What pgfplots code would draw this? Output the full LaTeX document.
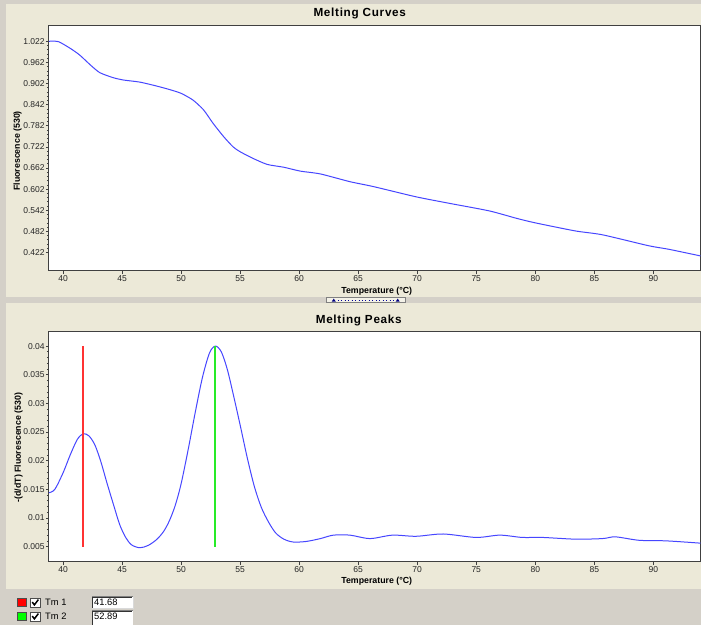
\documentclass[border=0pt]{standalone}
\usepackage{fontspec}
\setmainfont{Liberation Sans}
\usepackage{pgfplots}
\pgfplotsset{compat=1.18}
\definecolor{xpbeige}{RGB}{236,233,216}
\definecolor{xpgrey}{RGB}{212,208,200}
\definecolor{curveblue}{RGB}{70,70,255}
\definecolor{axisgrey}{RGB}{64,64,64}
\definecolor{tmred}{RGB}{255,50,50}
\definecolor{tmgreen}{RGB}{40,235,40}
\newfontfamily\titlefont[LetterSpace=6]{Liberation Sans Bold}

\pgfplotstableread{
T F
38.8 1.022
39.6 1.021
40.6 1.002
41.4 0.983
42.3 0.955
43.1 0.933
44.2 0.919
45.1 0.912
46.5 0.906
47.9 0.895
49.0 0.885
50.0 0.874
51.0 0.855
51.9 0.827
52.7 0.789
53.6 0.751
54.4 0.722
55.0 0.708
56.1 0.689
57.3 0.672
58.7 0.664
60.1 0.653
61.8 0.645
64.3 0.623
66.3 0.609
69.9 0.580
72.8 0.561
76.1 0.540
78.4 0.519
80.0 0.506
83.4 0.483
85.7 0.472
89.6 0.441
91.3 0.431
94.0 0.412
}\curves

\pgfplotstableread{
T D
38.8 0.0144
39.3 0.0150
40.0 0.0179
40.6 0.0210
41.2 0.0237
41.7 0.0247
42.2 0.0243
42.7 0.0227
43.2 0.0198
43.7 0.0162
44.3 0.0121
44.8 0.0088
45.3 0.0066
45.8 0.0053
46.5 0.0048
47.2 0.0052
47.9 0.0062
48.5 0.0076
49.0 0.0095
49.5 0.0122
50.0 0.0160
50.6 0.0220
51.2 0.0285
51.8 0.0345
52.4 0.0388
52.9 0.0400
53.4 0.0390
53.9 0.0360
54.4 0.0317
55.0 0.0262
55.6 0.0205
56.2 0.0155
56.8 0.0118
57.4 0.0093
58.0 0.0074
58.7 0.0063
59.5 0.0058
60.6 0.0059
61.8 0.0064
62.9 0.0070
64.3 0.0070
66.0 0.0064
67.9 0.0070
69.9 0.0068
72.2 0.0072
75.0 0.0066
77.0 0.0070
78.9 0.0066
80.6 0.0066
83.4 0.0063
85.7 0.0064
86.8 0.0067
88.8 0.0061
91.1 0.0060
94.0 0.0056
}\peaks

\pgfplotsset{
  xpaxis/.style={
    scale only axis,
    width=489pt,
    anchor=south west,
    xmin=38.8, xmax=94,
    axis background/.style={fill=white},
    axis line style={axisgrey, line width=0.75pt},
    xtick={40,45,...,90},
    xticklabels={40,45,50,55,60,65,70,75,80,85,90},
    xtick pos=lower, ytick pos=left,
    tick align=outside,
    major tick length=2.4pt,
    minor tick length=1.5pt,
    minor y tick num=4,
    scaled y ticks=false,
    tick style={axisgrey, line width=0.5pt},
    ticklabel style={font=\fontsize{6.4}{7}\selectfont, text=black!85},
    /pgf/number format/assume math mode=true,
    xticklabel style={inner sep=1pt},
    yticklabel style={inner sep=0.6pt},
  }
}

\begin{document}
\begin{tikzpicture}
\begin{scope}[x=0.75pt,y=-0.75pt]
\useasboundingbox (0,0) rectangle (701,625);
\fill[xpgrey] (0,0) rectangle (701,625);
\fill[xpbeige] (6,4) rectangle (701,297);
\fill[xpbeige] (6,303) rectangle (701,589);
% splitter button
\fill[xpbeige!60!white] (327,297.5) rectangle (406,303);
\draw[gray, line width=0.5pt] (327,297.5) rectangle (406,303);
\draw[blue!60!black, dotted, line width=0.6pt] (338,300.3) -- (395,300.3);
\fill[blue!50!black] (332,301.8) -- (336,301.8) -- (334,298.8) -- cycle;
\fill[blue!50!black] (396,301.8) -- (400,301.8) -- (398,298.8) -- cycle;
% titles and labels
\node[font=\titlefont\fontsize{8.8}{10}\selectfont] at (360,14) {Melting Curves};
\node[font=\titlefont\fontsize{8.8}{10}\selectfont] at (359,320.5) {Melting Peaks};
\node[font=\bfseries\fontsize{6.6}{8}\selectfont] at (377,291) {Temperature (°C)};
\node[font=\bfseries\fontsize{6.6}{8}\selectfont] at (377,582) {Temperature (°C)};
\node[font=\bfseries\fontsize{6.6}{8}\selectfont, rotate=90] at (17.5,151) {Fluorescence (530)};
\node[font=\bfseries\fontsize{6.6}{8}\selectfont, rotate=90] at (18.5,448) {-(d/dT) Fluorescence (530)};
% legend rows
\fill[red] (17,599) rectangle (26,607);
\draw[black!70, line width=0.5pt] (17,599) rectangle (26,607);
\fill[white] (30.5,598.5) rectangle (40,607.5);
\draw[black!70, line width=0.5pt] (30.5,598.5) rectangle (40,607.5);
\draw[black, line width=1.1pt] (32.3,602.5) -- (34.4,605.3) -- (38.4,600);
\node[anchor=west, font=\fontsize{7}{8}\selectfont, inner sep=0pt] at (45,602.5) {Tm 1};
\fill[white] (92,597) rectangle (133,609);
\draw[gray, line width=0.6pt] (92,609) -- (92,597) -- (133,597);
\draw[black!80, line width=0.5pt] (92.8,608.3) -- (92.8,597.8) -- (132.3,597.8);
\draw[white!85!black, line width=0.5pt] (92,609) -- (133,609) -- (133,597);
\node[anchor=west, font=\fontsize{7}{8}\selectfont, inner sep=0pt] at (94,603.2) {41.68};
\fill[green] (17,613) rectangle (26,621);
\draw[black!70, line width=0.5pt] (17,613) rectangle (26,621);
\fill[white] (30.5,612.5) rectangle (40,621.5);
\draw[black!70, line width=0.5pt] (30.5,612.5) rectangle (40,621.5);
\draw[black, line width=1.1pt] (32.3,616.5) -- (34.4,619.3) -- (38.4,614);
\node[anchor=west, font=\fontsize{7}{8}\selectfont, inner sep=0pt] at (45,616.5) {Tm 2};
\fill[white] (92,611) rectangle (133,625);
\draw[gray, line width=0.6pt] (92,625) -- (92,611) -- (133,611);
\draw[black!80, line width=0.5pt] (92.8,625) -- (92.8,611.8) -- (132.3,611.8);
\node[anchor=west, font=\fontsize{7}{8}\selectfont, inner sep=0pt] at (94,617.2) {52.89};
\end{scope}

\begin{axis}[xpaxis,
  at={(36.75pt,-203.25pt)},
  height=183.75pt,
  ymin=0.3697, ymax=1.0655,
  ytick={0.422,0.482,0.542,0.602,0.662,0.722,0.782,0.842,0.902,0.962,1.022},
  yticklabels={0.422,0.482,0.542,0.602,0.662,0.722,0.782,0.842,0.902,0.962,1.022},
]
\addplot[curveblue, line width=0.75pt, smooth, tension=0.4] table[x=T, y=F] {\curves};
\end{axis}

\begin{axis}[xpaxis,
  at={(36.75pt,-421.5pt)},
  height=172.5pt,
  ymin=0.00238, ymax=0.0425,
  ytick={0.005,0.01,0.015,0.02,0.025,0.03,0.035,0.04},
  yticklabels={0.005,0.01,0.015,0.02,0.025,0.03,0.035,0.04},
]
\addplot[curveblue, line width=0.75pt, smooth, tension=0.5] table[x=T, y=D] {\peaks};
\addplot[draw=tmred, line width=1pt] coordinates {(41.68,0.005) (41.68,0.040)};
\addplot[draw=tmgreen, line width=1.5pt] coordinates {(52.89,0.005) (52.89,0.040)};
\end{axis}
\end{tikzpicture}
\end{document}
